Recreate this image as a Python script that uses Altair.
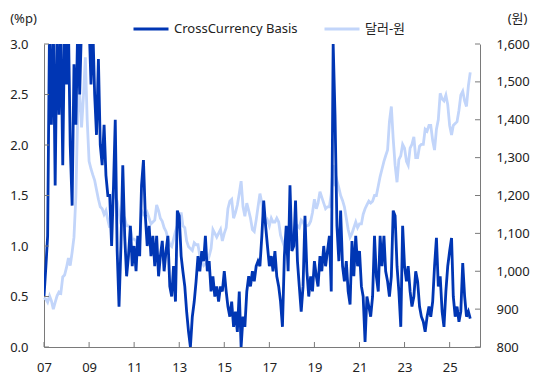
import altair as alt
import pandas as pd

# ---- data (monthly readings, chart time axis) ----
start_month = "2007-01-01"

basis = [
    0.5, 0.8, 1.1, 3.2, 2.2, 3.2, 1.6, 3.2, 2.3, 3.2,
    1.8, 3.2, 2.6, 3.2, 2.0, 1.4, 2.8, 2.2, 3.2, 2.5,
    3.2, 3.3, 3.3, 3.3, 3.2, 2.6, 3.2, 2.5, 2.1, 2.85,
    2.0, 1.8, 2.2, 1.7, 1.5, 1.5, 1.0, 1.6, 2.25, 0.95,
    0.4, 1.0, 1.8, 1.1, 0.7, 0.9, 1.2, 0.8, 1.0, 0.75,
    1.1, 0.9, 1.6, 1.85, 1.3, 1.0, 1.2, 0.9, 1.1, 0.8,
    1.1, 0.7, 0.9, 1.05, 0.75, 0.95, 1.1, 0.6, 0.5, 0.8,
    0.45, 1.35, 1.3, 0.9, 0.75, 0.6, 0.35, 0.15, 0.0, 0.3,
    0.45, 0.65, 0.9, 0.75, 0.95, 0.85, 1.1, 0.75, 0.85, 0.55,
    0.7, 0.5, 0.6, 0.45, 0.6, 0.55, 0.75, 0.55, 0.4, 0.3,
    0.45, 0.2, 0.35, 0.15, 0.55, 0.0, 0.3, 0.2, 0.55, 0.7,
    0.6, 0.75, 0.65, 0.8, 0.85, 0.8, 1.1, 1.45, 1.2, 1.0,
    0.8, 0.9, 0.75, 0.95, 0.7, 0.6, 0.45, 0.2, 0.9, 1.2,
    0.75, 1.6, 0.95, 1.0, 1.45, 0.85, 0.6, 0.35, 0.6, 1.3,
    0.75, 0.5, 0.7, 0.55, 0.85, 0.7, 0.6, 0.9, 0.75, 1.0,
    0.8, 0.95, 1.1, 0.55, 3.0, 2.3, 1.2, 0.85, 1.35, 0.8,
    0.65, 0.85, 0.55, 0.42, 1.05, 0.7, 1.1, 0.8, 0.95, 0.6,
    0.5, 0.05, 0.5, 0.4, 0.3, 0.5, 1.1, 0.7, 0.55, 1.1,
    0.8, 1.1, 0.75, 0.65, 0.5, 0.7, 1.35, 1.3, 0.8, 0.55,
    0.2, 1.2, 0.8, 0.65, 0.8, 0.55, 0.4, 0.5, 0.75, 0.65,
    0.4, 0.3, 0.25, 0.15, 0.3, 0.4, 0.3, 0.45, 0.8, 1.08,
    0.6, 0.7, 0.35, 0.2, 0.55, 0.8, 0.95, 1.08, 0.5, 0.3,
    0.4, 0.25, 0.35, 0.83, 0.5, 0.3, 0.35, 0.28,
]

krw = [
    930, 926, 918, 935, 922, 900, 918, 935,
    945, 942, 985, 990, 1010, 1035, 1015, 1050, 1090, 1200, 1420, 1470,
    1380, 1460, 1565, 1400, 1290, 1270, 1255, 1240, 1215, 1190, 1170, 1165,
    1150, 1160, 1135, 1115, 1190, 1215, 1195, 1185, 1155, 1125, 1150, 1140,
    1120, 1120, 1115, 1085, 1085, 1080, 1060, 1080, 1160, 1150, 1145, 1155,
    1140, 1125, 1130, 1135, 1175, 1160, 1140, 1132, 1115, 1105, 1087, 1070,
    1065, 1085, 1105, 1120, 1115, 1155, 1120, 1115, 1080, 1065, 1060, 1055,
    1075, 1070, 1070, 1040, 1025, 1015, 1020, 1025, 1040, 1060, 1110, 1100,
    1090, 1100, 1110, 1080, 1100, 1115, 1165, 1185, 1190, 1140, 1155, 1175,
    1205, 1238, 1170, 1145, 1180, 1160, 1140, 1110, 1105, 1135, 1170, 1205,
    1180, 1140, 1125, 1135, 1120, 1140, 1130, 1130, 1140, 1130, 1095, 1080,
    1065, 1080, 1070, 1065, 1078, 1105, 1125, 1120, 1115, 1135, 1130, 1120,
    1120, 1122, 1132, 1155, 1190, 1165, 1180, 1210, 1195, 1180, 1165, 1170,
    1170, 1205, 1280, 1225, 1240, 1220, 1200, 1187, 1170, 1140, 1110, 1090,
    1100, 1115, 1130, 1115, 1125, 1125, 1150, 1165, 1175, 1185, 1180, 1185,
    1200, 1200, 1225, 1250, 1270, 1290, 1305, 1320, 1395, 1435, 1350, 1280,
    1235, 1295, 1305, 1335, 1325, 1290, 1280, 1325, 1335, 1355, 1300, 1300,
    1330, 1335, 1335, 1375, 1370, 1385, 1385, 1345, 1320, 1375, 1400, 1470,
    1455, 1450, 1465, 1440, 1385, 1360, 1385, 1390, 1395, 1425, 1465, 1475,
    1450, 1435, 1490, 1525,
]

series_names = ["CrossCurrency Basis", "달러-원"]
x_tick_years = [2007, 2009, 2011, 2013, 2015, 2017, 2019, 2021, 2023, 2025]
left_ticks = [0.0, 0.5, 1.0, 1.5, 2.0, 2.5, 3.0]
right_ticks = [800, 900, 1000, 1100, 1200, 1300, 1400, 1500, 1600]

# ---- frames ----
dates = pd.date_range(start_month, periods=len(basis), freq="MS")
df = pd.DataFrame({"date": dates, "basis": basis, "krw": krw})
df_b = df[["date", "basis"]].assign(series=series_names[0])
df_k = df[["date", "krw"]].assign(series=series_names[1])
df_xt = pd.DataFrame({"date": pd.to_datetime([f"{y}-01-01" for y in x_tick_years])})
df_lt = pd.DataFrame({"basis": left_ticks})
df_rt = pd.DataFrame({"krw": right_ticks})

FONT = "Noto Sans, 'Noto Sans CJK KR', sans-serif"
DARK = "#0036B4"
LIGHT = "#C2D5FA"
AXIS = "#7a7a7a"
TEXT = "#222222"
W, H = 436, 303

x_scale = alt.Scale(domain=[alt.DateTime(year=2007, month=1, date=1),
                            alt.DateTime(year=2026, month=5, date=8)])
x_axis = alt.Axis(title=None, values=[alt.DateTime(year=y, month=1, date=1) for y in x_tick_years],
                  format="%y", ticks=False, labelPadding=14, grid=False, labelFlush=False)

left_axis = alt.Axis(title="(%p)", orient="left", values=left_ticks, format=".1f", ticks=False,
                     labelPadding=16, grid=False, titleAngle=0, titleAlign="center",
                     titleBaseline="middle", titleX=-21, titleY=-26)
right_axis = alt.Axis(title="(원)", orient="right", values=right_ticks, format=",d", ticks=False,
                      labelPadding=16, grid=False, titleAngle=0, titleAlign="center",
                      titleBaseline="middle", titleX=37, titleY=-26)

left_scale = alt.Scale(domain=[0, 3], nice=False, zero=False)
right_scale = alt.Scale(domain=[800, 1600], nice=False, zero=False)

color = alt.Color("series:N",
                  scale=alt.Scale(domain=series_names, range=[DARK, LIGHT]),
                  legend=alt.Legend(orient="none", legendX=88, legendY=-34, direction="horizontal",
                                    title=None, symbolType="stroke", symbolSize=1225,
                                    symbolStrokeWidth=3, labelOffset=4, columnPadding=20,
                                    labelFont=FONT, labelFontSize=13, labelColor=TEXT))

light = alt.Chart(df_k).mark_line(strokeWidth=2.8).encode(
    x=alt.X("date:T", scale=x_scale, axis=x_axis),
    y=alt.Y("krw:Q", scale=right_scale, axis=right_axis),
    color=color,
)
right_tick_rule = alt.Chart(df_rt).mark_rule(color=AXIS, strokeWidth=1).encode(
    y=alt.Y("krw:Q", scale=right_scale, axis=right_axis),
    x=alt.value(W), x2=alt.value(W - 5),
)

dark = alt.Chart(df_b).mark_line(strokeWidth=2.8, clip=True).encode(
    x=alt.X("date:T", scale=x_scale, axis=x_axis),
    y=alt.Y("basis:Q", scale=left_scale, axis=left_axis),
    color=color,
)
left_tick_rule = alt.Chart(df_lt).mark_rule(color=AXIS, strokeWidth=1).encode(
    y=alt.Y("basis:Q", scale=left_scale, axis=left_axis),
    x=alt.value(0), x2=alt.value(5),
)
x_tick_rule = alt.Chart(df_xt).mark_rule(color=AXIS, strokeWidth=1).encode(
    x=alt.X("date:T", scale=x_scale, axis=x_axis),
    y=alt.value(H), y2=alt.value(H - 5),
)

right_group = alt.layer(light, right_tick_rule)
left_group = alt.layer(dark, left_tick_rule, x_tick_rule)

chart = (
    alt.layer(right_group, left_group)
    .resolve_scale(y="independent")
    .properties(width=W, height=H, autosize="none",
                padding={"left": 36, "top": 36, "right": 56, "bottom": 29})
    .configure_view(stroke=None)
    .configure_axis(domainColor=AXIS, domainWidth=1, labelFont=FONT, labelFontSize=13,
                    labelColor=TEXT, titleFont=FONT, titleFontSize=13, titleColor=TEXT,
                    titleFontWeight="normal")
)

chart.save("out.html", embed_options={"renderer": "svg", "actions": False})
